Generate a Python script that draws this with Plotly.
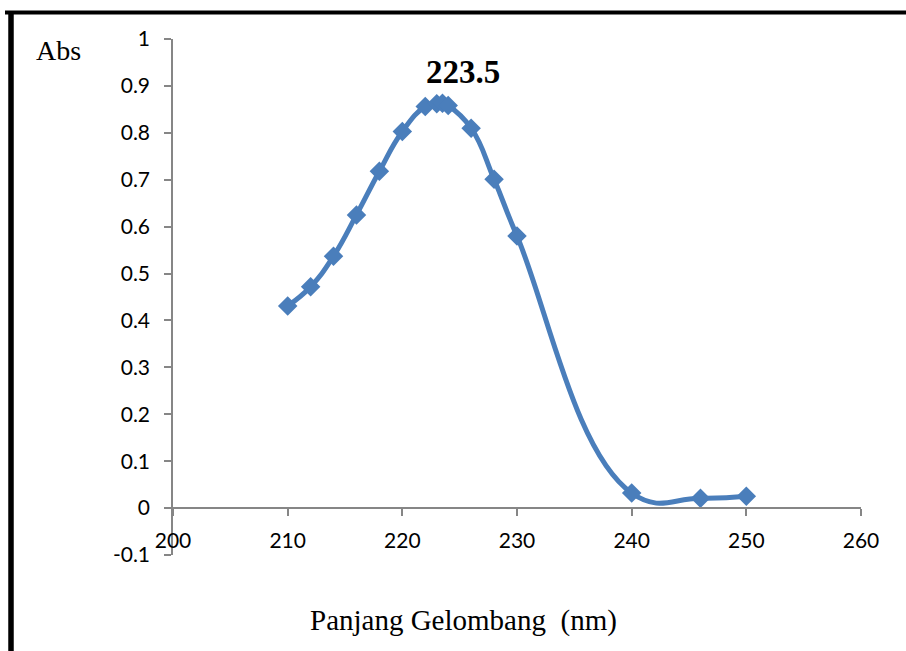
import plotly.graph_objects as go

wavelength = [210, 212, 214, 216, 218, 220, 222, 223, 223.5, 224, 226, 228, 230, 240, 246, 250]
absorbance = [0.431, 0.472, 0.537, 0.625, 0.718, 0.803, 0.856, 0.862, 0.863, 0.858, 0.810, 0.701, 0.580, 0.032, 0.021, 0.025]
x_ticks = [200, 210, 220, 230, 240, 250, 260]
y_ticks = [-0.1, 0, 0.1, 0.2, 0.3, 0.4, 0.5, 0.6, 0.7, 0.8, 0.9, 1]
y_tick_text = ["-0.1", "0", "0.1", "0.2", "0.3", "0.4", "0.5", "0.6", "0.7", "0.8", "0.9", "1"]
peak_label = "223.5"

W, H = 906, 651
ML, MR, MT, MB = 173, 45, 39, 96
PW, PH = W - ML - MR, H - MT - MB

def px_x(p):
    return (p - ML) / PW

def px_y(p):
    return (H - MB - p) / PH

blue = "#4A7EBB"
axis_col = "#868686"

fig = go.Figure()
fig.add_trace(go.Scatter(
    x=wavelength, y=absorbance, mode="lines+markers",
    line=dict(color=blue, width=5, shape="spline", smoothing=1.3),
    marker=dict(symbol="diamond", size=15, color=blue),
    showlegend=False, cliponaxis=False,
))

ymin, ymax = -0.1, 1.0
fig.update_layout(
    width=W, height=H,
    margin=dict(l=ML, r=MR, t=MT, b=MB),
    plot_bgcolor="white", paper_bgcolor="white",
    xaxis=dict(
        range=[200, 260], tickvals=x_ticks, showgrid=False, zeroline=False,
        showline=True, linecolor=axis_col, linewidth=1.5,
        ticks="outside", ticklen=7, tickcolor=axis_col, tickwidth=1.5,
        anchor="free", position=(0 - ymin) / (ymax - ymin),
        tickfont=dict(family="Lato", size=21, color="black"),
        ticklabelstandoff=7,
    ),
    yaxis=dict(
        range=[ymin, ymax], tickvals=y_ticks, ticktext=y_tick_text,
        showgrid=False, zeroline=False,
        showline=True, linecolor=axis_col, linewidth=1.5,
        ticks="outside", ticklen=7, tickcolor=axis_col, tickwidth=1.5,
        tickfont=dict(family="Lato", size=21, color="black"),
        ticklabelstandoff=10,
    ),
    font=dict(family="Liberation Serif", color="black"),
)

ann = dict(xref="paper", yref="paper", showarrow=False, xanchor="center", yanchor="middle")
fig.add_annotation(text="Abs", x=px_x(58), y=px_y(50),
                   font=dict(family="Liberation Serif", size=28, color="black"), **ann)
fig.add_annotation(text="<b>" + peak_label + "</b>", x=px_x(463), y=px_y(72),
                   font=dict(family="Liberation Serif", size=33, color="black"), **ann)
fig.add_annotation(text="Panjang Gelombang\u00a0\u00a0(nm)", x=px_x(463), y=px_y(620),
                   font=dict(family="Liberation Serif", size=29, color="black"), **ann)

# frame lines (top and left)
fig.add_shape(type="line", xref="paper", yref="paper", x0=px_x(5), x1=px_x(906),
              y0=px_y(12.5), y1=px_y(12.5), line=dict(color="black", width=4))
fig.add_shape(type="line", xref="paper", yref="paper", x0=px_x(11), x1=px_x(11),
              y0=px_y(11), y1=px_y(651), line=dict(color="black", width=5.5))

fig.write_html("out.html", config={"displayModeBar": False},
               post_script="document.body.style.margin='0';")
